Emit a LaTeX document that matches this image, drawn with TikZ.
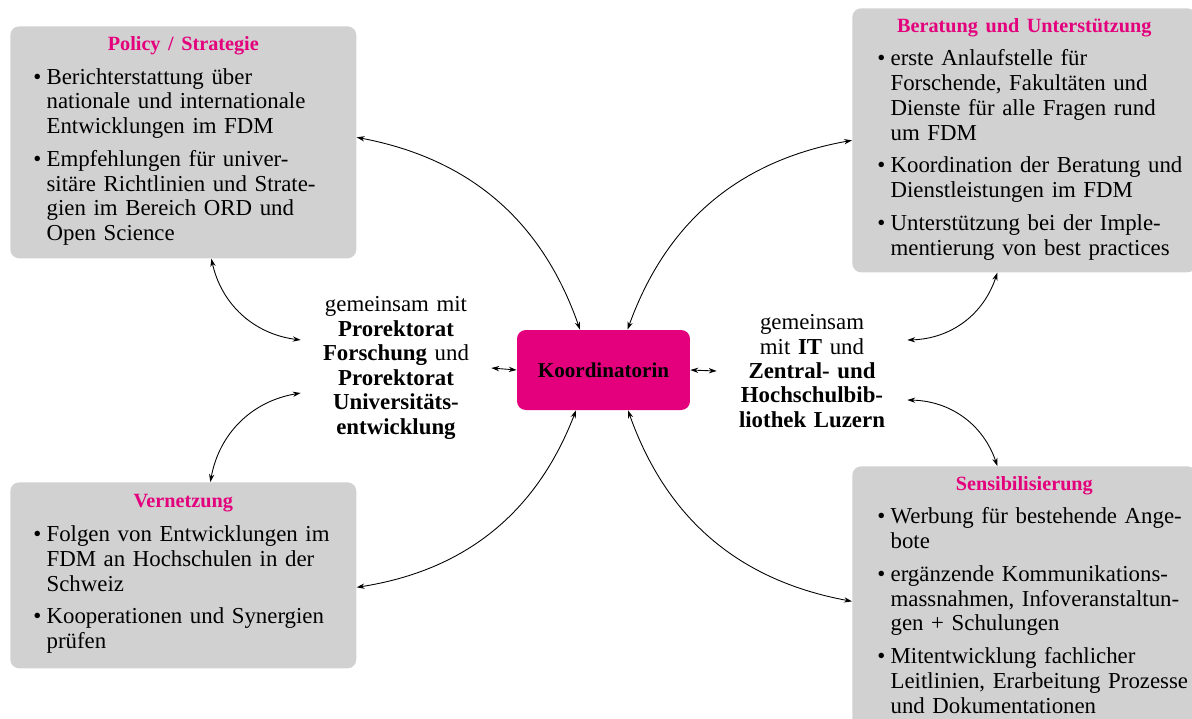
\documentclass[tikz,border=0pt]{standalone}
\usepackage{fontspec}
\setmainfont{Liberation Serif}
\usetikzlibrary{arrows.meta}
\definecolor{unimag}{HTML}{E4007C}
\definecolor{boxgray}{HTML}{D1D1D1}
\newcommand{\boxtitle}[1]{\makebox[\linewidth][c]{\fontsize{11.5}{13}\selectfont\bfseries\color{unimag}#1}}
\newcommand{\points}[1]{\begin{tabular}[t]{@{}l@{\hspace{3pt}}l@{}}#1\end{tabular}}
\tikzset{
    every node/.style={inner sep=0pt, font=\fontsize{13}{14.1}\selectfont},
    area/.style={rectangle, rounded corners=5pt, fill=boxgray, anchor=north west, align=left, inner xsep=0.46cm},
    partner/.style={align=center, font=\fontsize{13}{13.9}\selectfont},
    koordbox/.style={rectangle, rounded corners=5pt, fill=unimag, minimum width=3.46cm, minimum height=1.6cm, font=\fontsize{12}{14}\selectfont\bfseries},
    link/.style={<->, >={Stealth[length=4.5pt, width=3pt]}, line width=0.5pt}
}

\begin{document}
\begin{tikzpicture}[x=0.02cm, y=-0.02cm]
        \useasboundingbox (0,0) rectangle (1192,718);
        \node (pol) [area, text width=6cm, minimum width=6.92cm, minimum height=4.64cm] at (10,26) {\boxtitle{Policy / Strategie}\\[5pt]
                \points{\textbullet & Berichterstattung über\\
                        & nationale und internationale\\
                        & Entwicklungen im FDM\\[4.5pt]
                        \textbullet & Empfehlungen für univer-\\
                        & sitäre Richtlinien und Strate-\\
                        & gien im Bereich ORD und\\
                        & Open Science}};
        \node (ber) [area, inner xsep=0.48cm, text width=5.88cm, minimum width=6.88cm, minimum height=5.28cm] at (852,8) {\boxtitle{Beratung und Unterstützung}\\[5pt]
                \points{\textbullet & erste Anlaufstelle für\\
                        & Forschende, Fakultäten und\\
                        & Dienste für alle Fragen rund\\
                        & um FDM\\[4.5pt]
                        \textbullet & Koordination der Beratung und\\
                        & Dienstleistungen im FDM\\[4.5pt]
                        \textbullet & Unterstützung bei der Imple-\\
                        & mentierung von best practices}};
        \node (ver) [area, text width=6cm, minimum width=6.92cm, minimum height=3.72cm] at (10,482) {\boxtitle{Vernetzung}\\[5pt]
                \points{\textbullet & Folgen von Entwicklungen im\\
                        & FDM an Hochschulen in der\\
                        & Schweiz\\[4.5pt]
                        \textbullet & Kooperationen und Synergien\\
                        & prüfen}};
        \node (sen) [area, inner xsep=0.48cm, text width=5.88cm, minimum width=6.88cm, minimum height=5.28cm] at (852,466) {\boxtitle{Sensibilisierung}\\[5pt]
                \points{\textbullet & Werbung für bestehende Ange-\\
                        & bote\\[4.5pt]
                        \textbullet & ergänzende Kommunikations-\\
                        & massnahmen, Infoveranstaltun-\\
                        & gen + Schulungen\\[4.5pt]
                        \textbullet & Mitentwicklung fachlicher\\
                        & Leitlinien, Erarbeitung Prozesse\\
                        & und Dokumentationen}};
        \node (koord) [koordbox] at (603.5,370) {Koordinatorin};
        \node (lmid) [partner, text width=3.04cm, inner xsep=0.38cm] at (396,368) {gemeinsam mit\\\textbf{Prorektorat}\\\textbf{Forschung} und\\\textbf{Prorektorat}\\\textbf{Universitäts-}\\\textbf{entwicklung}};
        \node (rmid) [partner, text width=3.2cm, inner xsep=0.3cm] at (812,371) {gemeinsam\\mit \textbf{IT} und\\\textbf{Zentral- und}\\\textbf{Hochschulbib-}\\\textbf{liothek Luzern}};
        \draw [link] (koord.west) -- (lmid.east);
        \draw [link] (koord.east) -- (rmid.west);
        \draw [link] ([xshift=-0.47cm]koord.north) to[bend right=30] ([yshift=0.1cm]pol.east);
        \draw [link] ([xshift=0.48cm]koord.north) to[bend left=30] (ber.west);
        \draw [link] ([xshift=-0.55cm]koord.south) to[bend left=30] ([yshift=-0.24cm]ver.east);
        \draw [link] ([xshift=0.49cm]koord.south) to[bend right=30] ([yshift=-0.06cm]sen.west);
        \draw [link] ([xshift=0.56cm]pol.south) to[bend right=35] ([yshift=0.56cm]lmid.west);
        \draw [link] ([yshift=-0.5cm]lmid.west) to[bend right=35] ([xshift=0.54cm]ver.north);
        \draw [link] ([xshift=-0.54cm]ber.south) to[bend left=35] ([yshift=0.62cm]rmid.east);
        \draw [link] ([yshift=-0.58cm]rmid.east) to[bend left=35] ([xshift=-0.54cm]sen.north);
\end{tikzpicture}
\end{document}
